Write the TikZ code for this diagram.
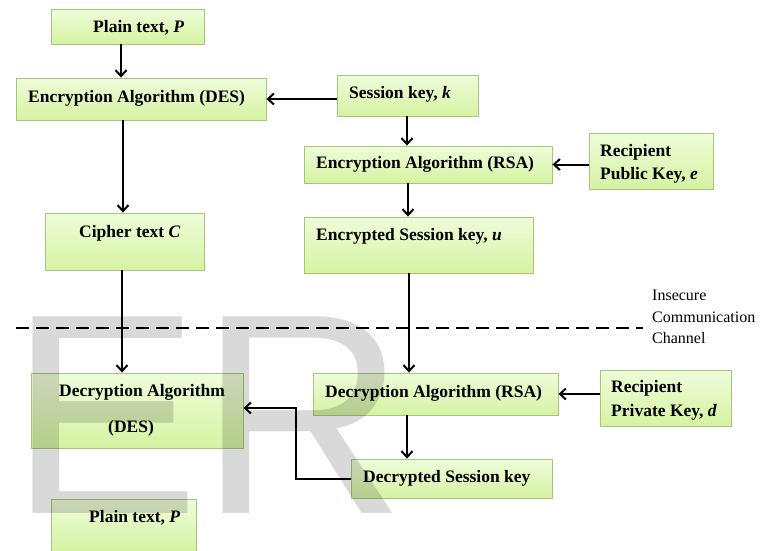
\documentclass[tikz,border=0pt]{standalone}
\usepackage{fontspec}
\setmainfont{Liberation Serif}
\newfontfamily\wmfont{Liberation Sans}
\usetikzlibrary{arrows.meta,shadows}
\definecolor{boxtop}{HTML}{EFFCDA}
\definecolor{boxbot}{HTML}{D5F3A2}
\definecolor{boxline}{HTML}{A7C67B}
\tikzset{
  box/.style={draw=boxline, line width=0.9pt, top color=boxtop, bottom color=boxbot,
    inner sep=0pt, drop shadow={shadow xshift=1.2pt, shadow yshift=-1.2pt, opacity=0.25}},
  lbl/.style={anchor=mid west, inner sep=0pt, font=\fontsize{17.5}{19}\selectfont\bfseries},
  note/.style={anchor=mid west, inner sep=0pt, font=\fontsize{16}{18}\selectfont},
  arr/.style={line width=2pt, -{Straight Barb[length=6pt,width=11pt,line width=2pt]}},
  wm/.style={anchor=base west, inner sep=0pt, text=black, text opacity=0.15,
    font=\wmfont\fontsize{286}{286}\selectfont},
  chan/.style={line width=2.6pt, dash pattern=on 13pt off 7pt}
}
\begin{document}
\begin{tikzpicture}[x=1pt,y=-1pt]
\useasboundingbox (0,0) rectangle (771,550);
% boxes
\node[box, minimum width=153pt, minimum height=35pt] (ptop) at (127.5,26.5) {};
\node[box, minimum width=250pt, minimum height=42pt] (encdes) at (141,99) {};
\node[box, minimum width=159pt, minimum height=57pt] (cipher) at (124.5,241.5) {};
\node[box, minimum width=141pt, minimum height=41pt] (skey) at (407.5,95.5) {};
\node[box, minimum width=248pt, minimum height=37pt] (encrsa) at (428,164.5) {};
\node[box, minimum width=124pt, minimum height=56pt] (pubkey) at (651,161) {};
\node[box, minimum width=229pt, minimum height=56pt] (enckey) at (418.5,245) {};
\node[box, minimum width=212pt, minimum height=75pt] (decdes) at (137,410.5) {};
\node[box, minimum width=145pt, minimum height=53pt] (pbot) at (123.5,525.5) {};
\node[box, minimum width=245pt, minimum height=42pt] (decrsa) at (435.5,394) {};
\node[box, minimum width=131pt, minimum height=56pt] (privkey) at (665.5,398) {};
\node[box, minimum width=201pt, minimum height=39pt] (decr) at (451.5,478.5) {};
% watermark
\node[wm] (wmE) at (9,513) {E};
\node[wm] (wmR) at (199,513) {R};
% labels
\node[lbl] (tptop) at (93,30) {Plain text, \textit{P}};
\node[lbl] (tencdes) at (28,100) {Encryption Algorithm (DES)};
\node[lbl] (tcipher) at (79,235) {Cipher text \textit{C}};
\node[lbl] (tskey) at (349,96) {Session key, \textit{k}};
\node[lbl] (tencrsa) at (316,166) {Encryption Algorithm (RSA)};
\node[lbl] (tpub1) at (600,154) {Recipient};
\node[lbl] (tpub2) at (600,177) {Public Key, \textit{e}};
\node[lbl] (tenckey) at (316,238) {Encrypted Session key, \textit{u}};
\node[lbl] (tdecdes1) at (59,394) {Decryption Algorithm};
\node[lbl] (tdecdes2) at (108,430) {(DES)};
\node[lbl] (tdecrsa) at (325,395) {Decryption Algorithm (RSA)};
\node[lbl] (tpriv1) at (611,390) {Recipient};
\node[lbl] (tpriv2) at (611,414) {Private Key, \textit{d}};
\node[lbl] (tdecr) at (363,480) {Decrypted Session key};
\node[lbl] (tpbot) at (89,520) {Plain text, \textit{P}};
\node[note] (ins1) at (652,298) {Insecure};
\node[note] (ins2) at (652,320) {Communication};
\node[note] (ins3) at (652,341) {Channel};
% channel line
\coordinate (chA) at (16,328);
\coordinate (chB) at (643,328);
\draw[chan] (chA) -- (chB);
% connectors
\draw[arr] (121,0 |- ptop.south) -- (121,0 |- encdes.north);
\draw[arr] (123,0 |- encdes.south) -- (123,0 |- cipher.north);
\draw[arr] (122,0 |- cipher.south) -- (122,0 |- decdes.north);
\draw[arr] (skey.west |- encdes.east) -- (encdes.east);
\draw[arr] (407,0 |- skey.south) -- (407,0 |- encrsa.north);
\draw[arr] (pubkey.west |- encrsa.east) -- (encrsa.east);
\draw[arr] (408,0 |- encrsa.south) -- (408,0 |- enckey.north);
\draw[arr] (409,0 |- enckey.south) -- (409,0 |- decrsa.north);
\draw[arr] (privkey.west |- decrsa.east) -- (decrsa.east);
\draw[arr] (407,0 |- decrsa.south) -- (407,0 |- decr.north);
\draw[arr] (decr.west) -- (296,0 |- decr.west) |- (decdes.east |- 0,408);
\end{tikzpicture}
\end{document}
